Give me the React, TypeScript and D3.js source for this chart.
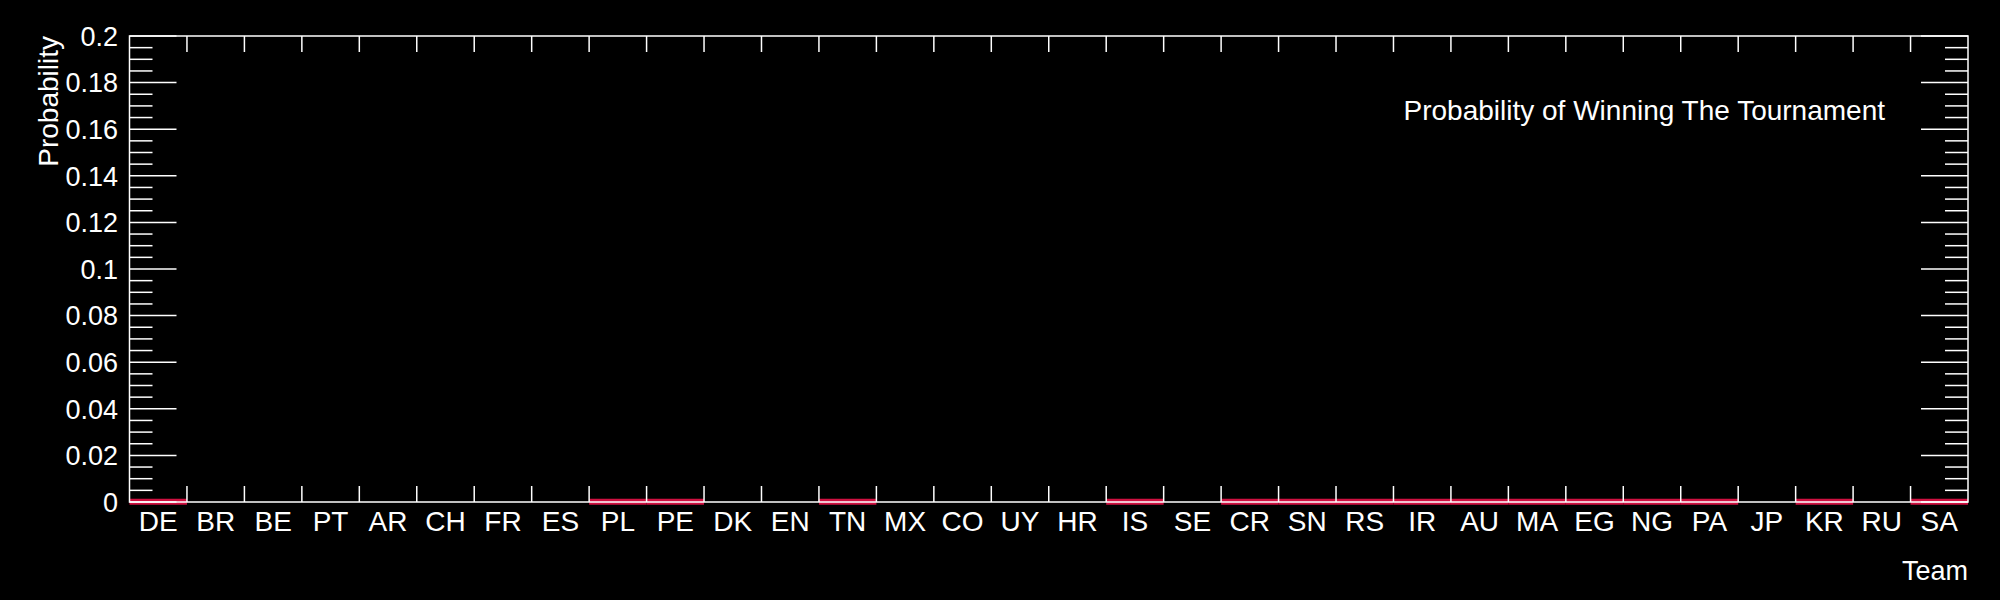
import React from "react";
import * as d3 from "d3";

const teams = [
  "DE", "BR", "BE", "PT", "AR", "CH", "FR", "ES", "PL", "PE", "DK", "EN", "TN", "MX", "CO", "UY",
  "HR", "IS", "SE", "CR", "SN", "RS", "IR", "AU", "MA", "EG", "NG", "PA", "JP", "KR", "RU", "SA",
];
// probabilities (all essentially zero)
const probs = [
  0.0001, 0, 0, 0, 0, 0, 0, 0, 0.0001, 0.0001, 0, 0, 0.0001, 0, 0, 0,
  0, 0.0001, 0, 0.0001, 0.0001, 0.0001, 0.0001, 0.0001, 0.0001, 0.0001, 0.0001, 0.0001, 0, 0.0001, 0, 0.0001,
];
const yMajor = [0, 0.02, 0.04, 0.06, 0.08, 0.1, 0.12, 0.14, 0.16, 0.18, 0.2];

const W = 2000;
const H = 600;
const frame = { left: 129.5, right: 1968, top: 36, bottom: 502 };
const font = "Liberation Sans, Arial, Helvetica, sans-serif";

export default function App() {
  const x = d3.scaleLinear().domain([0, teams.length]).range([frame.left, frame.right]);
  const y = d3.scaleLinear().domain([0, 0.2]).range([frame.bottom, frame.top]);
  const yMinor = d3.range(0, 0.2001, 0.005).filter((v) => Math.abs(Math.round(v / 0.02) * 0.02 - v) > 1e-6);
  const fmt = (v: number) => (v === 0 ? "0" : String(+v.toFixed(2)));

  return (
    <svg
      width={W}
      height={H}
      style={{ position: "absolute", left: 0, top: 0, background: "#000" }}
      fontFamily={font}
    >
      <rect width={W} height={H} fill="#000" />
      {/* histogram line */}
      {probs.map((p, i) =>
        p > 0 ? (
          <line
            key={"h" + i}
            x1={x(i)}
            x2={x(i + 1)}
            y1={y(p)}
            y2={y(p)}
            stroke="#cf1040"
            strokeWidth={6}
          />
        ) : null
      )}
      {/* frame */}
      <rect
        x={frame.left}
        y={frame.top}
        width={frame.right - frame.left}
        height={frame.bottom - frame.top}
        fill="none"
        stroke="#fff"
        strokeWidth={1.5}
      />
      {/* x ticks top & bottom */}
      {d3.range(1, teams.length).map((i) => (
        <g key={"xt" + i} stroke="#fff" strokeWidth={1.5}>
          <line x1={x(i)} x2={x(i)} y1={frame.bottom} y2={frame.bottom - 16} />
          <line x1={x(i)} x2={x(i)} y1={frame.top} y2={frame.top + 16} />
        </g>
      ))}
      {/* y ticks left & right */}
      {yMajor.map((v) => (
        <g key={"ym" + v} stroke="#fff" strokeWidth={1.5}>
          <line x1={frame.left} x2={frame.left + 47} y1={y(v)} y2={y(v)} />
          <line x1={frame.right} x2={frame.right - 47} y1={y(v)} y2={y(v)} />
        </g>
      ))}
      {yMinor.map((v) => (
        <g key={"yn" + v} stroke="#fff" strokeWidth={1.5}>
          <line x1={frame.left} x2={frame.left + 23} y1={y(v)} y2={y(v)} />
          <line x1={frame.right} x2={frame.right - 23} y1={y(v)} y2={y(v)} />
        </g>
      ))}
      {/* y labels */}
      {yMajor.map((v) => (
        <text key={"yl" + v} x={118} y={y(v)} dy="0.36em" textAnchor="end" fill="#fff" fontSize={27}>
          {fmt(v)}
        </text>
      ))}
      {/* x labels */}
      {teams.map((t, i) => (
        <text key={"xl" + t} x={x(i + 0.5)} y={530.5} textAnchor="middle" fill="#fff" fontSize={28}>
          {t}
        </text>
      ))}
      {/* axis titles */}
      <text
        transform={`translate(58, ${frame.top}) rotate(-90)`}
        textAnchor="end"
        fill="#fff"
        fontSize={28}
      >
        Probability
      </text>
      <text x={frame.right} y={580} textAnchor="end" fill="#fff" fontSize={27}>
        Team
      </text>
      <text x={1885} y={120} textAnchor="end" fill="#fff" fontSize={28}>
        Probability of Winning The Tournament
      </text>
    </svg>
  );
}
